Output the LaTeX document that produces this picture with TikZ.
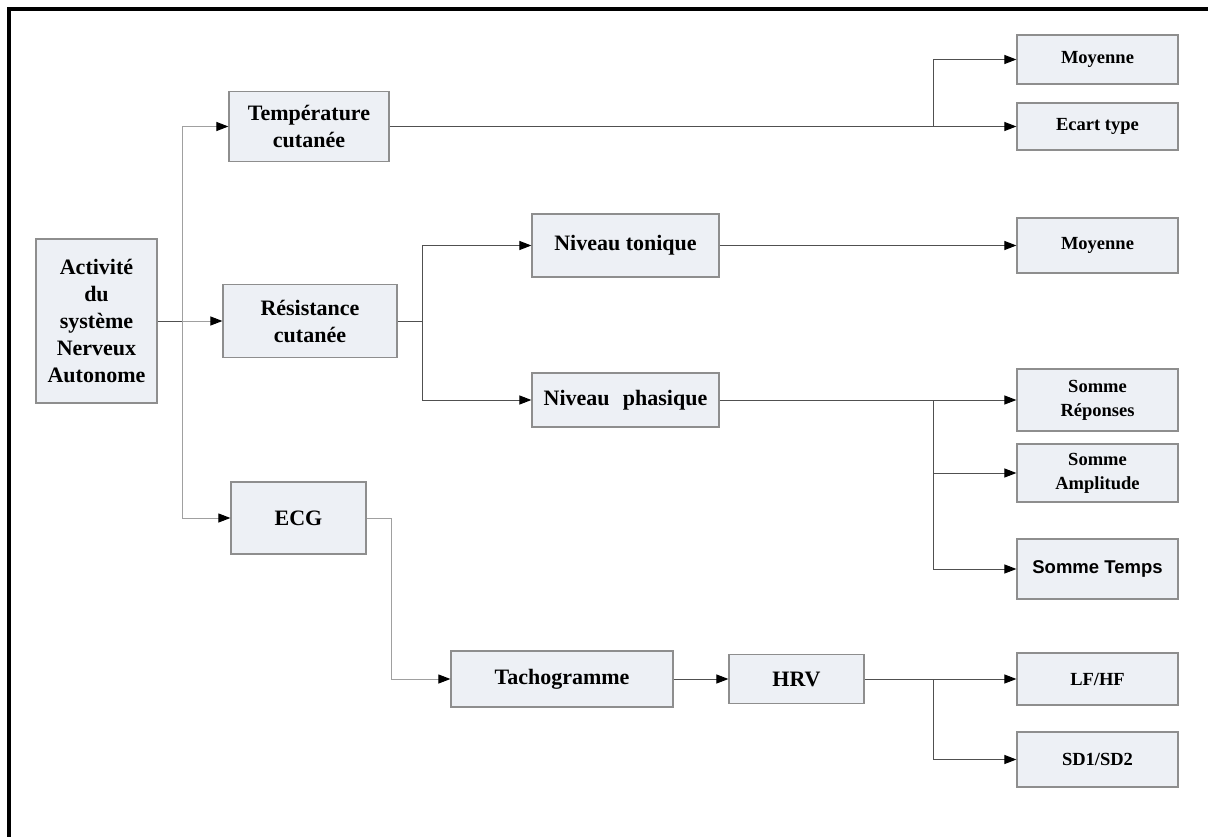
\documentclass[tikz,border=0pt]{standalone}
\usepackage{fontspec}
\setmainfont{Liberation Serif}
\newfontfamily\arialfont{Liberation Sans}
\usetikzlibrary{arrows.meta}
\definecolor{boxfill}{HTML}{EDF0F5}
\definecolor{boxline}{HTML}{8E8E8E}
\definecolor{darkln}{HTML}{505050}
\definecolor{lightln}{HTML}{A0A0A0}
\tikzset{
  box/.style={draw=boxline, fill=boxfill, line width=1.2pt, rectangle, align=center, inner sep=2pt, font=\bfseries\fontsize{22}{27}\selectfont},
  sbox/.style={box, font=\bfseries\fontsize{18.5}{24}\selectfont},
  conn/.style={draw=darkln, line width=1pt},
  lconn/.style={draw=lightln, line width=1pt},
  arr/.style={-{Triangle[length=12pt,width=9pt,color=black]}},
}
\begin{document}
\begin{tikzpicture}[x=1pt,y=-1pt]
\useasboundingbox (0,0) rectangle (1208,837);
\draw[line width=3.5pt, black] (9,837) -- (9,9) -- (1208,9);

% nodes
\node[box, minimum width=121pt, minimum height=164pt] (act) at (96.5,321) {Activité\\du\\système\\Nerveux\\Autonome};
\node[box, minimum width=160pt, minimum height=70pt] (temp) at (309,126.5) {Température\\cutanée};
\node[box, minimum width=174pt, minimum height=73pt] (res) at (310,321) {Résistance\\cutanée};
\node[box, minimum width=135pt, minimum height=72pt] (ecg) at (298.5,518) {ECG};
\node[box, minimum width=187pt, minimum height=63pt] (ton) at (625.5,245.5) {Niveau tonique};
\node[box, minimum width=187pt, minimum height=54pt] (pha) at (625.5,400) {Niveau\hspace{0.6em}phasique};
\node[box, minimum width=222pt, minimum height=56pt] (tacho) at (562,679) {Tachogramme};
\node[box, minimum width=135pt, minimum height=49pt] (hrv) at (796.5,679) {HRV};

\node[sbox, minimum width=161pt, minimum height=49pt] (moy1) at (1097.5,59.5) {Moyenne};
\node[sbox, minimum width=161pt, minimum height=47pt] (ect) at (1097.5,126.5) {Ecart type};
\node[sbox, minimum width=161pt, minimum height=55pt] (moy2) at (1097.5,245.5) {Moyenne};
\node[sbox, minimum width=161pt, minimum height=62pt] (srep) at (1097.5,400) {Somme\\Réponses};
\node[sbox, minimum width=161pt, minimum height=58pt] (samp) at (1097.5,473) {Somme\\Amplitude};
\node[sbox, minimum width=161pt, minimum height=60pt, font=\arialfont\bfseries\fontsize{18.5}{24}\selectfont] (stemps) at (1097.5,569) {Somme Temps};
\node[sbox, minimum width=161pt, minimum height=52pt] (lfhf) at (1097.5,679) {LF/HF};
\node[sbox, minimum width=161pt, minimum height=55pt] (sd) at (1097.5,759.5) {SD1/SD2};

% bus coordinates
\coordinate (b1) at (182,0);
\coordinate (b2) at (422,0);
\coordinate (b3) at (933,0);
\coordinate (b4) at (391,0);

% connectors
\draw[conn] (act.east) -- (act.east -| b1);
\draw[lconn,arr] (act.east -| b1) -- (res.west);
\draw[lconn,arr] (act.east -| b1) |- (temp.west);
\draw[lconn,arr] (act.east -| b1) |- (ecg.west);

\draw[conn,arr] (temp.east) -- (ect.west);
\draw[conn,arr] (temp.east -| b3) |- (moy1.west);

\draw[conn] (res.east) -- (res.east -| b2);
\draw[conn,arr] (res.east -| b2) |- (ton.west);
\draw[conn,arr] (res.east -| b2) |- (pha.west);

\draw[conn,arr] (ton.east) -- (moy2.west);

\draw[conn,arr] (pha.east) -- (srep.west);
\draw[conn,arr] (pha.east -| b3) |- (samp.west);
\draw[conn,arr] (pha.east -| b3) |- (stemps.west);

\draw[lconn] (ecg.east) -- (ecg.east -| b4);
\draw[lconn,arr] (ecg.east -| b4) |- (tacho.west);

\draw[conn,arr] (tacho.east) -- (hrv.west);
\draw[conn,arr] (hrv.east) -- (lfhf.west);
\draw[conn,arr] (hrv.east -| b3) |- (sd.west);
\end{tikzpicture}
\end{document}
